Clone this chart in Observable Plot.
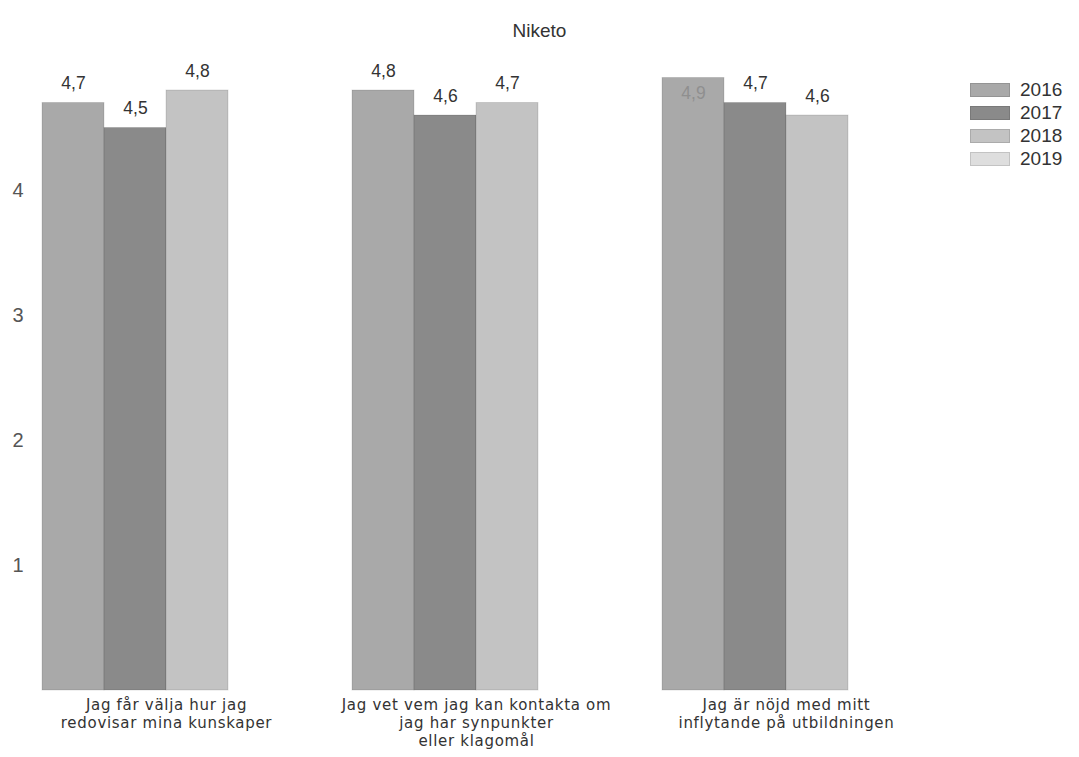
<!DOCTYPE html>
<html>
<head>
<meta charset="utf-8">
<script src="https://cdn.jsdelivr.net/npm/d3@7"></script>
<script src="https://cdn.jsdelivr.net/npm/@observablehq/plot@0.6"></script>
<style>
  body { margin: 0; background: #fff; font-family: "Liberation Sans", Arial, sans-serif; }
  #wrap { position: relative; width: 1079px; height: 757px; }
  #title { position: absolute; left: 0; width: 1079px; top: 20px; text-align: center; font-size: 19px; color: #333; }
  #legend { position: absolute; left: 970px; top: 78px; }
  .row { display: flex; align-items: center; height: 23px; font-size: 19px; color: #333; }
  .sw { width: 40px; height: 14px; margin-right: 10px; box-sizing: border-box; border: 1px solid rgba(0,0,0,0.12); }
  .fxlab text { letter-spacing: 0.7px; }
</style>
</head>
<body>
<div id="wrap">
  <div id="chart"></div>
  <div id="title">Niketo</div>
  <div id="legend"></div>
</div>
<script>
const chartTitle = "Niketo";
const categories = [
  "Jag får välja hur jag\nredovisar mina kunskaper",
  "Jag vet vem jag kan kontakta om\njag har synpunkter\neller klagomål",
  "Jag är nöjd med mitt\ninflytande på utbildningen"
];
const years = ["2016", "2017", "2018", "2019"];
const values2016 = [4.7, 4.8, 4.9];
const values2017 = [4.5, 4.6, 4.7];
const values2018 = [4.8, 4.7, 4.6];
const values2019 = [null, null, null];
const yearColors = ["#a9a9a9", "#8a8a8a", "#c3c3c3", "#dedede"];
const yTicks = [1, 2, 3, 4];

const series = [values2016, values2017, values2018, values2019];
const data = [];
categories.forEach((c, i) => {
  years.forEach((y, j) => {
    const v = series[j][i];
    if (v != null) data.push({category: c, year: y, value: v});
  });
});
const fmt = v => d3.format(".1f")(v).replace(".", ",");
const topLimit = 4.85;

const chart = Plot.plot({
  width: 1079,
  height: 757,
  marginLeft: 41,
  marginRight: 168,
  marginTop: 65,
  marginBottom: 67,
  style: {fontFamily: "Liberation Sans, Arial, sans-serif", background: "#fff"},
  fx: {domain: categories, padding: 0.2, label: null},
  x: {domain: years, padding: 0, axis: null},
  y: {domain: [0, 5], axis: null},
  color: {domain: years, range: yearColors},
  marks: [
    Plot.barY(data, {fx: "category", x: "year", y: "value", fill: "year", stroke: "rgba(0,0,0,0.12)", strokeWidth: 1}),
    Plot.text(data.filter(d => d.value < topLimit), {fx: "category", x: "year", y: "value", text: d => fmt(d.value), lineAnchor: "bottom", dy: -14, fontSize: 17.5, fill: "#333"}),
    Plot.text(data.filter(d => d.value >= topLimit), {fx: "category", x: "year", y: "value", text: d => fmt(d.value), lineAnchor: "top", dy: 9, fontSize: 17.5, fill: "#8f8f8f"}),
    Plot.axisY({ticks: yTicks, tickFormat: d3.format("d"), tickSize: 0, tickPadding: 19, fontSize: 20, color: "#555", label: null}),
    Plot.axisFx({anchor: "bottom", tickSize: 0, tickPadding: 7, fontSize: 15, fontFamily: "DejaVu Sans, sans-serif", lineHeight: 1.2, color: "#333", label: null, className: "fxlab"})
  ]
});
document.getElementById("chart").appendChild(chart);
document.getElementById("title").textContent = chartTitle;

const legend = document.getElementById("legend");
years.forEach((y, i) => {
  const row = document.createElement("div");
  row.className = "row";
  const sw = document.createElement("div");
  sw.className = "sw";
  sw.style.background = yearColors[i];
  const lab = document.createElement("span");
  lab.textContent = y;
  row.appendChild(sw); row.appendChild(lab);
  legend.appendChild(row);
});
</script>
</body>
</html>
